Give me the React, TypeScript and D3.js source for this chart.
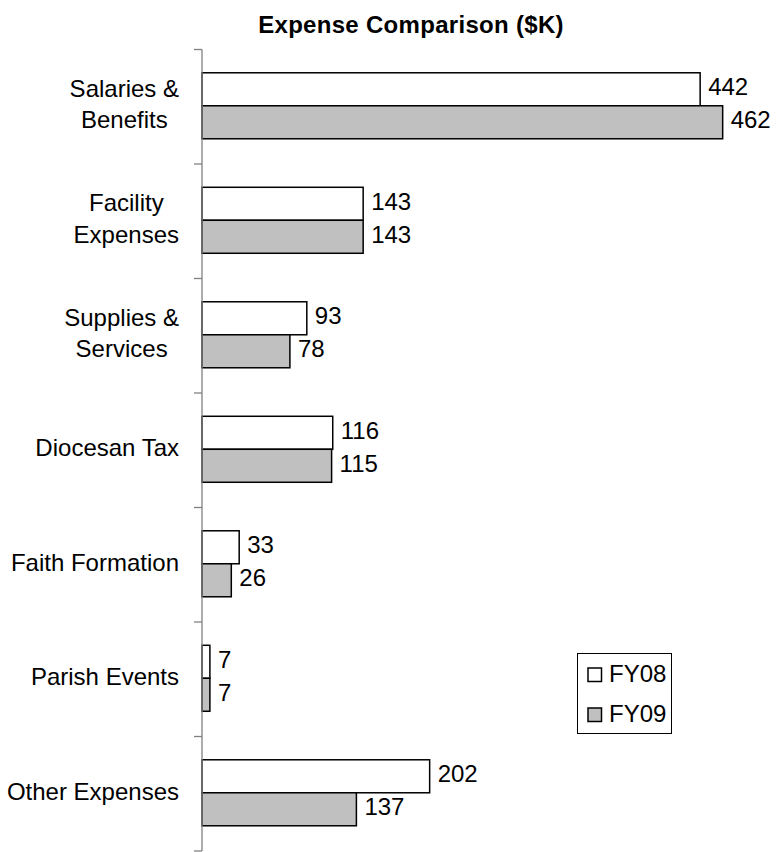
import React, { useEffect, useRef } from 'react';
import * as d3 from 'd3';

const categories = [
  'Salaries & Benefits',
  'Facility Expenses',
  'Supplies & Services',
  'Diocesan Tax',
  'Faith Formation',
  'Parish Events',
  'Other Expenses',
];
const categoryLines = [
  ['Salaries &', 'Benefits'],
  ['Facility', 'Expenses'],
  ['Supplies &', 'Services'],
  ['Diocesan Tax'],
  ['Faith Formation'],
  ['Parish Events'],
  ['Other Expenses'],
];
const seriesNames = ['FY08', 'FY09'];
const fy08 = [442, 143, 93, 116, 33, 7, 202];
const fy09 = [462, 143, 78, 115, 26, 7, 137];
const seriesColors = ['#ffffff', '#c0c0c0'];

const FONT = '"Liberation Sans", Arial, Helvetica, sans-serif';

const App = () => {
  const chartRef = useRef<SVGSVGElement | null>(null);

  useEffect(() => {
    const width = 778;
    const height = 852;
    const axisX = 202;
    const top = 49.5;
    const bottom = 851;

    const svg = d3.select(chartRef.current);
    svg.selectAll('*').remove();

    const x = d3.scaleLinear().domain([0, 500]).range([axisX, axisX + 563.5]);
    const y = d3.scaleBand<string>().domain(categories).range([top, bottom]).padding(0);
    const ySub = d3
      .scaleBand<string>()
      .domain(seriesNames)
      .range([0, y.bandwidth()])
      .paddingInner(0)
      .paddingOuter(0.735)
      .align(0.48);

    // title
    svg
      .append('text')
      .attr('x', 411)
      .attr('y', 33)
      .attr('text-anchor', 'middle')
      .attr('font-family', FONT)
      .attr('font-weight', 'bold')
      .attr('font-size', 24)
      .attr('letter-spacing', 0.3)
      .text('Expense Comparison ($K)');

    // bars
    const series = [fy08, fy09];
    series.forEach((vals, si) => {
      const g = svg.append('g');
      g.selectAll('rect')
        .data(vals)
        .enter()
        .append('rect')
        .attr('x', x(0))
        .attr('y', (d, i) => (y(categories[i]) as number) + (ySub(seriesNames[si]) as number))
        .attr('width', d => x(d) - x(0))
        .attr('height', ySub.bandwidth())
        .attr('fill', seriesColors[si])
        .attr('stroke', '#000')
        .attr('stroke-width', 1.5);

      g.selectAll('text')
        .data(vals)
        .enter()
        .append('text')
        .attr('x', d => x(d) + 8)
        .attr(
          'y',
          (d, i) =>
            (y(categories[i]) as number) + (ySub(seriesNames[si]) as number) + ySub.bandwidth() / 2 + 6
        )
        .attr('font-family', FONT)
        .attr('font-size', 24)
        .text(d => d);
    });

    // axis
    const axis = svg.append('g').attr('stroke', '#808080').attr('stroke-width', 1.3);
    axis.append('line').attr('x1', axisX).attr('x2', axisX).attr('y1', top).attr('y2', bottom);
    const ticks = categories.map(c => y(c) as number).concat([bottom]);
    axis
      .selectAll('line.tick')
      .data(ticks)
      .enter()
      .append('line')
      .attr('class', 'tick')
      .attr('x1', axisX - 8)
      .attr('x2', axisX)
      .attr('y1', d => d)
      .attr('y2', d => d);

    // category labels
    categoryLines.forEach((lines, i) => {
      const cy = (y(categories[i]) as number) + y.bandwidth() / 2 + 5.75;
      const t = svg
        .append('text')
        .attr('text-anchor', 'middle')
        .attr('font-family', FONT)
        .attr('font-size', 24);
      const lh = 31.6;
      lines.forEach((ln, j) => {
        t.append('tspan')
          .attr('x', 0)
          .attr('y', cy + (j - (lines.length - 1) / 2) * lh)
          .text(ln);
      });
      const bb = (t.node() as SVGTextElement).getBBox();
      t.attr('transform', `translate(${179 - bb.width / 2},0)`);
    });

    // legend
    const legend = svg.append('g');
    legend
      .append('rect')
      .attr('x', 577.5)
      .attr('y', 653.5)
      .attr('width', 94)
      .attr('height', 80)
      .attr('fill', '#fff')
      .attr('stroke', '#000')
      .attr('stroke-width', 1);
    seriesNames.forEach((name, i) => {
      legend
        .append('rect')
        .attr('x', 588)
        .attr('y', 668 + i * 40)
        .attr('width', 13.5)
        .attr('height', 13.5)
        .attr('fill', seriesColors[i])
        .attr('stroke', '#000')
        .attr('stroke-width', 1.5);
      legend
        .append('text')
        .attr('x', 609)
        .attr('y', 682 + i * 40)
        .attr('font-family', FONT)
        .attr('font-size', 24)
        .text(name);
    });

    svg.attr('width', width).attr('height', height);

    return () => {
      svg.selectAll('*').remove();
    };
  }, []);

  return (
    <svg
      ref={chartRef}
      width={778}
      height={852}
      style={{ position: 'absolute', left: 0, top: 0, background: '#fff' }}
    />
  );
};

export default App;
